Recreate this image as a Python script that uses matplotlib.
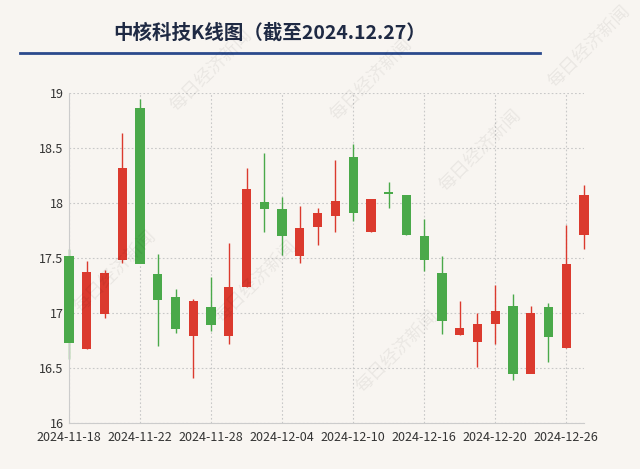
import numpy as np
import matplotlib.pyplot as plt

plt.rcParams["font.family"] = ["Noto Sans CJK SC", "DejaVu Sans"]

dates = ["2024-11-18", "2024-11-19", "2024-11-20", "2024-11-21", "2024-11-22",
         "2024-11-25", "2024-11-26", "2024-11-27", "2024-11-28", "2024-11-29",
         "2024-12-02", "2024-12-03", "2024-12-04", "2024-12-05", "2024-12-06",
         "2024-12-09", "2024-12-10", "2024-12-11", "2024-12-12", "2024-12-13",
         "2024-12-16", "2024-12-17", "2024-12-18", "2024-12-19", "2024-12-20",
         "2024-12-23", "2024-12-24", "2024-12-25", "2024-12-26", "2024-12-27"]
opens = [17.52, 16.67, 16.99, 17.48, 18.86, 17.35, 17.15, 16.79, 17.05, 16.79,
         17.24, 18.01, 17.95, 17.52, 17.78, 17.88, 18.42, 17.74, 18.09, 18.07,
         17.70, 17.36, 16.80, 16.74, 16.90, 17.06, 16.45, 17.05, 16.68, 17.71]
closes = [16.73, 17.37, 17.36, 18.32, 17.45, 17.12, 16.85, 17.11, 16.89, 17.24,
          18.13, 17.95, 17.70, 17.77, 17.91, 18.02, 17.91, 18.04, 18.08, 17.71,
          17.48, 16.93, 16.86, 16.90, 17.02, 16.45, 17.00, 16.78, 17.45, 18.07]
highs = [17.58, 17.47, 17.39, 18.64, 18.95, 17.54, 17.22, 17.13, 17.33, 17.64,
         18.32, 18.45, 18.05, 17.97, 17.95, 18.39, 18.54, 18.04, 18.19, 18.07,
         17.85, 17.52, 17.11, 17.00, 17.25, 17.17, 17.06, 17.09, 17.80, 18.16]
lows = [16.58, 16.67, 16.95, 17.45, 17.45, 16.70, 16.82, 16.41, 16.84, 16.72,
        17.24, 17.74, 17.53, 17.45, 17.62, 17.74, 17.84, 17.74, 17.95, 17.71,
        17.38, 16.81, 16.80, 16.51, 16.72, 16.39, 16.45, 16.55, 16.68, 17.58]

RED = "#db3a2e"
GREEN = "#4aa94a"
BG = "#f8f5f1"

fig = plt.figure(figsize=(6.4, 4.69), dpi=100, facecolor=BG)
ax = fig.add_axes([69 / 640, 1 - 423 / 469, 515 / 640, 330 / 469], facecolor=BG)

x = np.arange(len(dates))
o, c, h, l = map(np.array, (opens, closes, highs, lows))
colors = [RED if cc >= oo else GREEN for oo, cc in zip(o, c)]
ax.vlines(x, l, h, colors=colors, linewidth=1, clip_on=False, zorder=2)
bottom = np.minimum(o, c)
height = np.maximum(np.abs(c - o), 0.02)
ax.bar(x, height, bottom=bottom, width=0.52, color=colors, clip_on=False, zorder=3)

ax.set_xlim(0, len(dates) - 1)
ax.set_ylim(16, 19)
ax.set_yticks([16, 16.5, 17, 17.5, 18, 18.5, 19])
ax.set_yticklabels(["16", "16.5", "17", "17.5", "18", "18.5", "19"])
ax.set_xticks(x[::4])
ax.set_xticklabels(dates[::4])
ax.tick_params(labelsize=9, colors="#333333", length=0, pad=4)
ax.tick_params(axis="x", pad=6)
ax.grid(True, linestyle=(0, (1.5, 2)), color="#c8c8c8", linewidth=0.8, zorder=0)
for s in ["top", "right"]:
    ax.spines[s].set_visible(False)
for s in ["left", "bottom"]:
    ax.spines[s].set_color("#cccccc")

# watermarks
for wx, wy in [(0.33, 0.85), (0.18, 0.42), (0.58, 0.83), (0.40, 0.40), (0.75, 0.68), (0.92, 0.90), (0.62, 0.25)]:
    fig.text(wx, wy, "每日经济新闻", rotation=45, fontsize=13, color="#000000", alpha=0.06,
             ha="center", va="center")

fig.text(270 / 640, 1 - 33 / 469, "中核科技K线图（截至2024.12.27）", fontsize=14, fontweight="bold",
         color="#1f2a44", ha="center", va="center")
fig.add_artist(plt.Line2D([20 / 640, 540 / 640], [1 - 53 / 469] * 2, color="#2b4a8c", linewidth=2))

fig.savefig("out.png", dpi=100, facecolor=BG)
